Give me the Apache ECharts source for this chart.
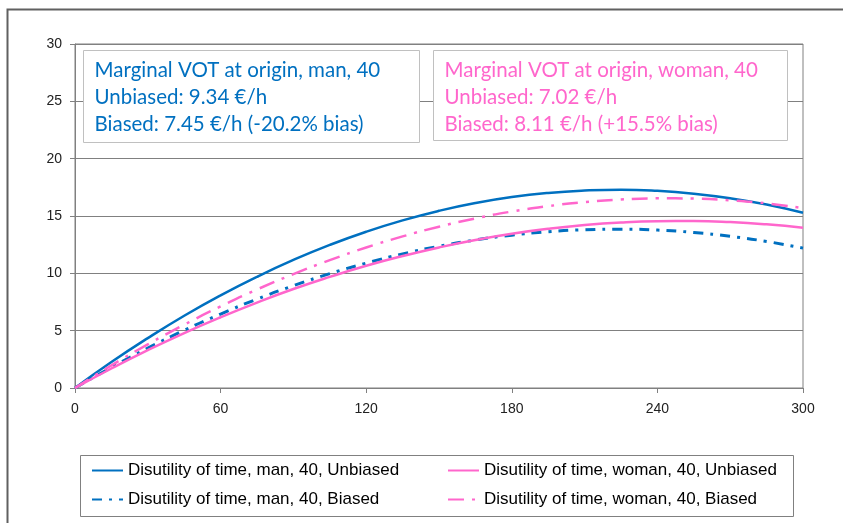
<!DOCTYPE html>
<html>
<head>
<meta charset="utf-8">
<script src="https://cdn.jsdelivr.net/npm/echarts@6/dist/echarts.min.js"></script>
<style>
  html, body { margin: 0; padding: 0; background: #fff; }
  #chart { width: 843px; height: 523px; }
</style>
</head>
<body>
<div id="chart"></div>
<script>
  // minutes on the x axis
  const minutes = [0, 15, 30, 45, 60, 75, 90, 105, 120, 135, 150, 165, 180, 195, 210, 225, 240, 255, 270, 285, 300]
  // disutility values
  const manUnbiased = [0, 2.26, 4.35, 6.30, 8.08, 9.70, 11.17, 12.48, 13.63, 14.62, 15.45, 16.13, 16.65, 17.01, 17.22, 17.30, 17.20, 16.95, 16.55, 16.00, 15.28]
  const manBiased = [0, 1.80, 3.48, 5.03, 6.45, 7.75, 8.92, 9.97, 10.89, 11.69, 12.36, 12.91, 13.33, 13.63, 13.80, 13.85, 13.77, 13.56, 13.23, 12.78, 12.20]
  const womanUnbiased = [0, 1.70, 3.30, 4.79, 6.17, 7.45, 8.63, 9.69, 10.66, 11.51, 12.26, 12.91, 13.45, 13.88, 14.21, 14.43, 14.54, 14.56, 14.47, 14.27, 13.97]
  const womanBiased = [0, 1.97, 3.81, 5.52, 7.12, 8.59, 9.93, 11.15, 12.25, 13.22, 14.07, 14.79, 15.39, 15.86, 16.21, 16.44, 16.54, 16.52, 16.37, 16.10, 15.68]
  const seriesNames = [
    'Disutility of time, man, 40, Unbiased',
    'Disutility of time, man, 40, Biased',
    'Disutility of time, woman, 40, Unbiased',
    'Disutility of time, woman, 40, Biased'
  ]
  const manNote = ['Marginal VOT at origin, man, 40', 'Unbiased: 9.34 €/h', 'Biased: 7.45 €/h (-20.2% bias)']
  const womanNote = ['Marginal VOT at origin, woman, 40', 'Unbiased: 7.02 €/h', 'Biased: 8.11 €/h (+15.5% bias)']

  const BLUE = '#0070C0'
  const PINK = '#FF66CC'

  function pairs (ys) {
    return minutes.map((m, i) => [m, ys[i]])
  }

  function line (name, ys, color, type, width) {
    return {
      name: name,
      type: 'line',
      data: pairs(ys),
      smooth: true,
      symbol: 'none',
      showSymbol: false,
      lineStyle: { color: color, width: width, type: type },
      itemStyle: { color: color },
      silent: true
    }
  }

  function note (x, y, w, h, lines, color) {
    return {
      type: 'group',
      left: x,
      top: y,
      z: 100,
      children: [
        {
          type: 'rect',
          z: 100,
          shape: { x: 0, y: 0, width: w, height: h },
          style: { fill: '#fff', stroke: '#c0c0c0', lineWidth: 1 }
        },
        {
          type: 'text',
          z: 101,
          x: 11,
          y: 6,
          style: {
            text: lines.join('\n'),
            fill: color,
            font: '20.5px Lato',
            lineHeight: 27
          }
        }
      ]
    }
  }

  let chart = echarts.init(document.getElementById('chart'), null, { renderer: 'canvas' })
  const labelFont = { color: '#222', fontSize: 14, fontFamily: 'Liberation Sans' }
  const legendText = { color: '#000', fontSize: 17, fontFamily: 'Liberation Sans' }
  const legendBase = {
    orient: 'vertical',
    top: 462,
    padding: 0,
    itemWidth: 31,
    itemHeight: 14,
    itemGap: 12,
    textStyle: legendText,
    selectedMode: false,
    itemStyle: { color: 'rgba(0,0,0,0)', borderWidth: 0 }
  }

  chart.setOption({
    animation: false,
    backgroundColor: '#fff',
    grid: {
      left: 75,
      right: 40,
      top: 44,
      bottom: 135,
      show: true,
      borderColor: '#808080',
      borderWidth: 1
    },
    xAxis: {
      type: 'value',
      min: 0,
      max: 300,
      interval: 60,
      splitLine: { show: false },
      axisLine: { lineStyle: { color: '#808080' } },
      axisTick: { show: true, length: 5, lineStyle: { color: '#808080' } },
      axisLabel: Object.assign({ margin: 14 }, labelFont)
    },
    yAxis: {
      type: 'value',
      min: 0,
      max: 30,
      interval: 5,
      splitLine: { lineStyle: { color: '#808080', width: 1 } },
      axisLine: { show: true, lineStyle: { color: '#808080' } },
      axisTick: { show: true, length: 5, lineStyle: { color: '#808080' } },
      axisLabel: Object.assign({ margin: 13 }, labelFont)
    },
    legend: [
      Object.assign({ data: [seriesNames[0], seriesNames[1]], left: 91 }, legendBase),
      Object.assign({ data: [seriesNames[2], seriesNames[3]], left: 447 }, legendBase)
    ],
    graphic: [
      {
        type: 'rect',
        left: 5,
        top: 7,
        z: -10,
        shape: { x: 0, y: 0, width: 900, height: 600 },
        style: { fill: 'none', stroke: '#606060', lineWidth: 2 }
      },
      {
        type: 'rect',
        left: 78,
        top: 453,
        z: -10,
        shape: { x: 0, y: 0, width: 713, height: 61 },
        style: { fill: 'none', stroke: '#808080', lineWidth: 1 }
      },
      note(83, 50, 336, 92, manNote, BLUE),
      note(433, 50, 354, 90, womanNote, PINK)
    ],
    series: [
      line(seriesNames[0], manUnbiased, BLUE, 'solid', 2.5),
      line(seriesNames[1], manBiased, BLUE, [10, 7, 3, 7], 3),
      line(seriesNames[2], womanUnbiased, PINK, 'solid', 2.5),
      line(seriesNames[3], womanBiased, PINK, [16, 8, 3, 8], 2.5)
    ]
  })
  window.addEventListener('resize', function () {
    chart.resize()
  })
</script>
</body>
</html>
